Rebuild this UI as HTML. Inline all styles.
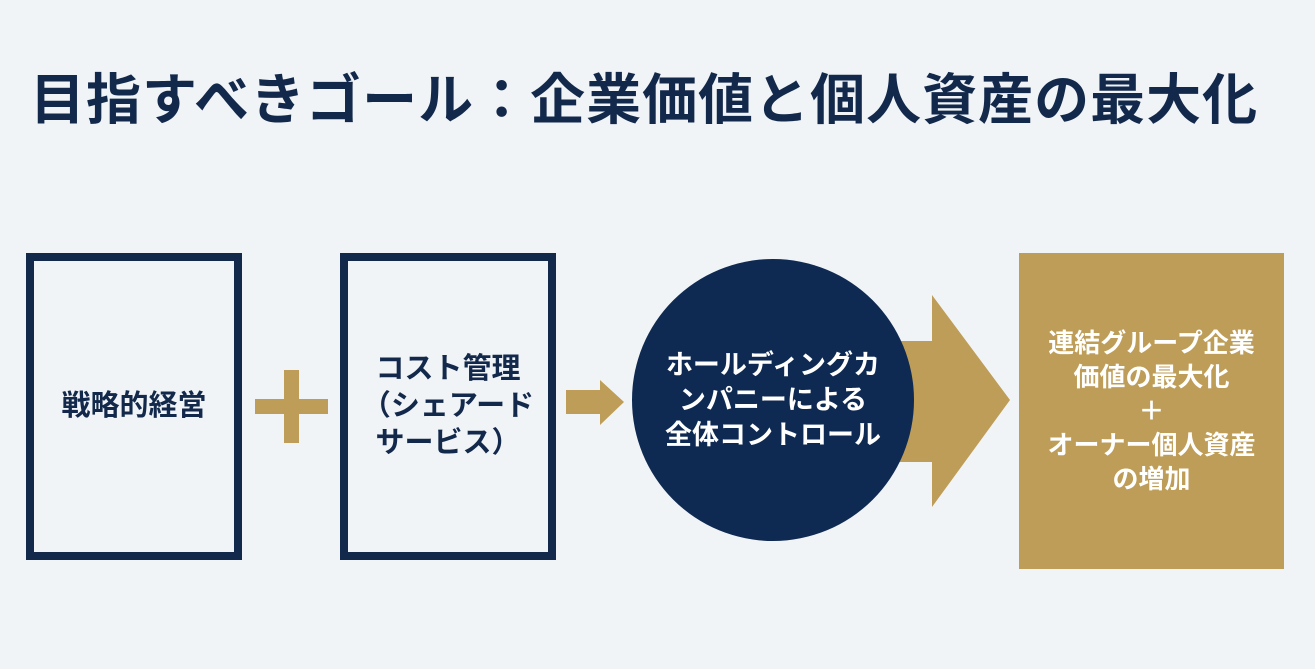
<!DOCTYPE html>
<html><head><meta charset="utf-8"><style>
body{margin:0;width:1315px;height:669px;background:#f1f4f7;position:relative;overflow:hidden;font-family:"Liberation Sans","Noto Sans CJK JP",sans-serif;font-weight:bold}
.t{position:absolute;left:30px;top:55px;font-size:55px;color:#13294b;letter-spacing:1px;white-space:nowrap}
.box{position:absolute;top:253px;width:200px;height:291px;border:8px solid #13294b;display:flex;align-items:center;justify-content:center;text-align:center;color:#13294b;font-size:29px;line-height:37px}
.gold{position:absolute;left:1019px;top:253px;width:265px;height:316px;background:#bd9d57;color:#fff;font-size:26px;line-height:34px;display:flex;align-items:center;justify-content:center;text-align:center}
.circ{position:absolute;left:632px;top:259px;width:282px;height:282px;border-radius:50%;background:#0f2a52;color:#fff;font-size:27px;line-height:35px;display:flex;align-items:center;justify-content:center;text-align:center}
</style></head><body>
<div class="t">目指すべきゴール：企業価値と個人資産の最大化</div>
<div class="box" style="left:26px">戦略的経営</div>
<div class="box" style="left:340px">コスト管理<br>（シェアード<br>サービス）</div>
<svg width="1315" height="669" style="position:absolute;left:0;top:0">
<rect x="255" y="399" width="73" height="15" fill="#bd9d57"/>
<rect x="284" y="370" width="15" height="73" fill="#bd9d57"/>
<polygon points="566,390 600,390 600,380 624,402 600,425 600,414 566,414" fill="#bd9d57"/>
<polygon points="880,341 932,341 932,295 1010,400 932,507 932,462 880,462" fill="#bd9d57"/>
</svg>
<div class="circ">ホールディングカ<br>ンパニーによる<br>全体コントロール</div>
<div class="gold">連結グループ企業<br>価値の最大化<br>＋<br>オーナー個人資産<br>の増加</div>
</body></html>
